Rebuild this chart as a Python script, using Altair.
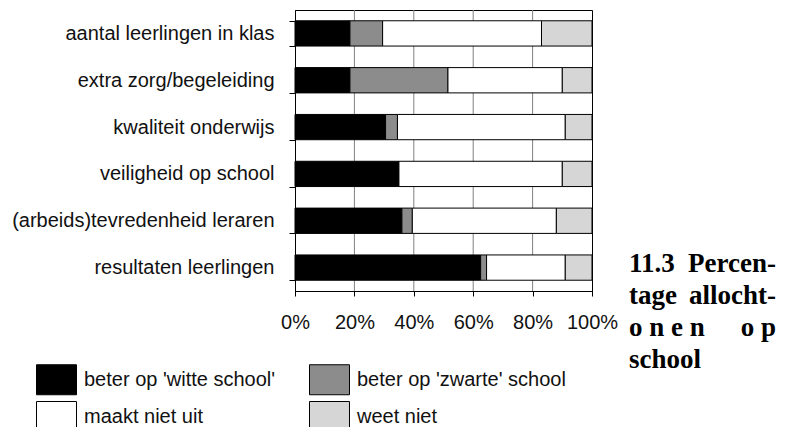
import altair as alt
import pandas as pd

categories = [
    "aantal leerlingen in klas",
    "extra zorg/begeleiding",
    "kwaliteit onderwijs",
    "veiligheid op school",
    "(arbeids)tevredenheid leraren",
    "resultaten leerlingen",
]
answers = ["beter op 'witte school'", "beter op 'zwarte' school", "maakt niet uit", "weet niet"]
beter_witte = [18.5, 18.5, 30.5, 35, 36, 62.5]
beter_zwarte = [11, 33, 4, 0, 3.5, 2]
maakt_niet_uit = [53.5, 38.5, 56.5, 55, 48.5, 26.5]
weet_niet = [17, 10, 9, 10, 12, 9]
x_ticks = [0, 10, 20, 30, 40, 50, 60, 70, 80, 90, 100]
grid_values = [20, 40, 60, 80]
# justified caption: (left part, right part) per line
title_lines = [("11.3", "Percen-"), ("tage", "allocht-"), ("o n e n", "o p"), ("school", "")]

colors = {
    answers[0]: "#000000",
    answers[1]: "#8c8c8c",
    answers[2]: "#ffffff",
    answers[3]: "#d6d6d6",
}
# legend is filled column by column: column 1 = witte / maakt niet uit, column 2 = zwarte / weet niet
legend_order = [answers[0], answers[2], answers[1], answers[3]]

rows = []
for series_idx, (name, vals) in enumerate(zip(answers, [beter_witte, beter_zwarte, maakt_niet_uit, weet_niet])):
    for cat, v in zip(categories, vals):
        rows.append({"category": cat, "answer": name, "value": v, "idx": series_idx})
df = pd.DataFrame(rows)

LABEL_FONT = "Liberation Sans"

grid = alt.Chart(pd.DataFrame({"v": grid_values})).mark_rule(color="#808080", strokeWidth=1).encode(
    x=alt.X("v:Q", scale=alt.Scale(domain=[0, 100], nice=False))
)

bars = alt.Chart(df).mark_bar(stroke="black", strokeWidth=1, opacity=1).encode(
    y=alt.Y(
        "category:N",
        sort=categories,
        title=None,
        scale=alt.Scale(paddingInner=0.46, paddingOuter=0.23),
        axis=alt.Axis(
            tickBand="extent",
            tickSize=6,
            tickColor="black",
            domainColor="black",
            labelFont=LABEL_FONT,
            labelFontSize=20,
            labelColor="#111111",
            labelPadding=15,
            labelLimit=400,
        ),
    ),
    x=alt.X(
        "value:Q",
        stack="zero",
        title=None,
        scale=alt.Scale(domain=[0, 100], nice=False),
        axis=alt.Axis(
            values=x_ticks,
            labelExpr="datum.value % 20 == 0 ? datum.value + '%' : ''",
            grid=False,
            tickSize=5,
            tickColor="black",
            domainColor="black",
            labelFont=LABEL_FONT,
            labelFontSize=20,
            labelColor="#111111",
            labelPadding=16,
            labelFlush=False,
            labelOverlap=False,
        ),
    ),
    color=alt.Color(
        "answer:N",
        scale=alt.Scale(domain=legend_order, range=[colors[a] for a in legend_order]),
        legend=alt.Legend(
            title=None,
            orient="none",
            legendX=-254,
            legendY=354,
            columns=2,
            columnPadding=31,
            rowPadding=2,
            symbolType="M-1.333,-1H1.333V1H-1.333Z",
            symbolSize=900,
            symbolStrokeColor="black",
            symbolStrokeWidth=1,
            symbolOpacity=1,
            labelFont=LABEL_FONT,
            labelFontSize=20,
            labelColor="#111111",
            labelOffset=12,
            labelLimit=400,
        ),
    ),
    order=alt.Order("idx:Q"),
)


def title_text(txt, x, y, align="left"):
    return alt.Chart(pd.DataFrame({"t": [txt]})).mark_text(
        align=align,
        baseline="alphabetic",
        font="Liberation Serif",
        fontSize=27,
        fontWeight="bold",
        color="black",
    ).encode(text="t:N", x=alt.value(x), y=alt.value(y))


line_baselines = [261.5, 294, 326, 358]
texts = []
for (left, right), yb in zip(title_lines, line_baselines):
    texts.append(title_text(left, 334, yb))
    if right:
        texts.append(title_text(right, 481, yb, align="right"))

chart = alt.layer(grid, bars, *texts).properties(
    width=297,
    height=281,
    autosize=alt.AutoSizeParams(type="none"),
    padding={"left": 287, "top": 2, "right": 185, "bottom": 136},
    background="white",
).configure_view(stroke="black", strokeWidth=1)

chart.save("out.html", embed_options={"renderer": "svg", "actions": False})
